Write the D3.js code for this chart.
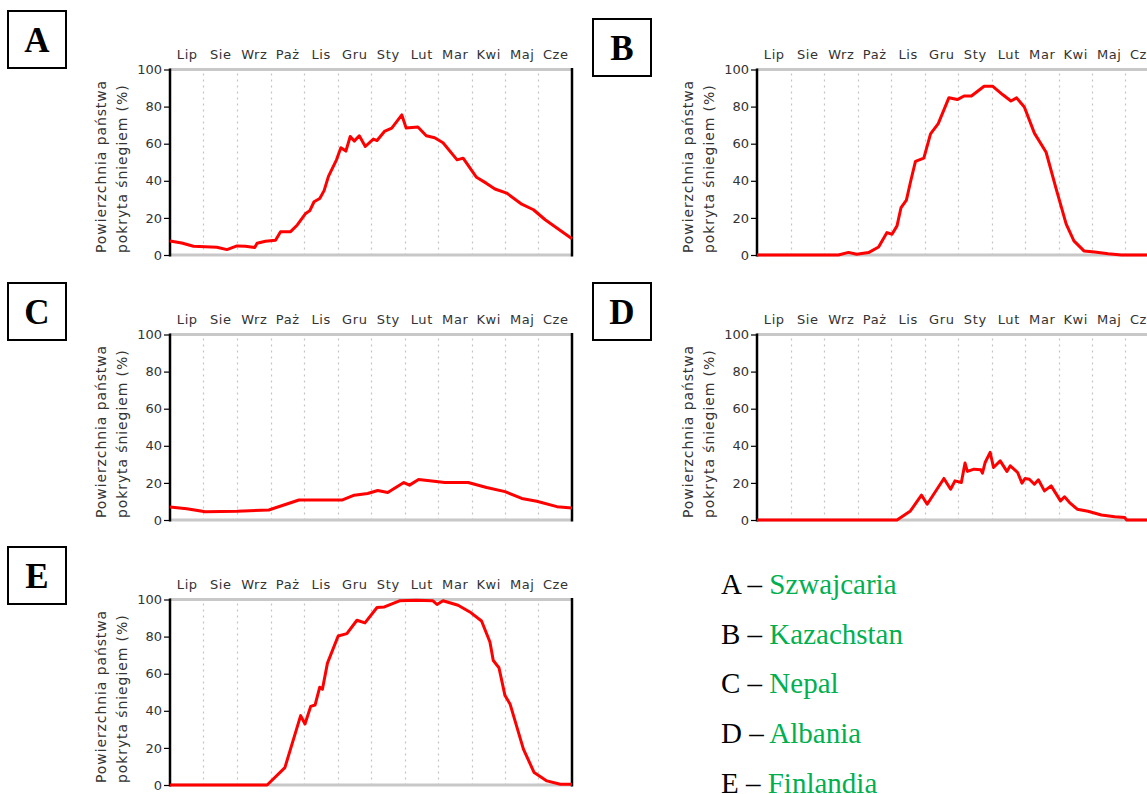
<!DOCTYPE html>
<html>
<head>
<meta charset="utf-8">
<script src="https://cdn.jsdelivr.net/npm/d3@7"></script>
<style>
  body { margin: 0; background: #fff; }
  svg { display: block; }
  .axis text { font-family: "DejaVu Sans", sans-serif; font-size: 13px; fill: #333; }
  .ylabel { font-family: "DejaVu Sans", sans-serif; font-size: 14px; fill: #333; letter-spacing: 0.9px; }
  .legend { font-family: "Liberation Serif", "Times New Roman", serif; font-size: 29px; }
</style>
</head>
<body>
<svg id="chart" width="1147" height="794"></svg>
<script>
// month labels (July .. June)
var months = ["Lip", "Sie", "Wrz", "Paż", "Lis", "Gru", "Sty", "Lut", "Mar", "Kwi", "Maj", "Cze"];
var yTicks = [0, 20, 40, 60, 80, 100];

// [month position, % of country covered by snow]
var snowA = [[0,7.6],[0.35,6.5],[0.7,4.7],[1.05,4.5],[1.4,4.2],[1.7,2.9],[2.0,4.9],[2.25,4.7],[2.53,4.0],[2.6,6.3],
  [2.85,7.4],[3.15,7.9],[3.3,12.5],[3.6,12.6],[3.8,16.2],[4.05,22.4],[4.17,23.8],[4.3,28.7],[4.47,30.5],[4.6,34.7],
  [4.73,42.4],[4.97,51.3],[5.1,57.8],[5.25,56],[5.38,63.9],[5.5,61.4],[5.65,64.3],[5.83,58.5],[6.07,62.5],[6.18,61.7],
  [6.4,66.6],[6.62,68.4],[6.92,75.5],[7.05,68.4],[7.4,69],[7.65,64.3],[7.9,63.2],[8.15,60.5],[8.57,51.3],[8.75,52.2],
  [9.15,41.9],[9.45,38.6],[9.7,35.6],[10.05,33.4],[10.5,27.4],[10.85,24.4],[11.2,19],[11.6,13.9],[12,8.8]];

var snowB = [[0,0],[2.43,0],[2.73,1.4],[2.98,0.4],[3.33,1.3],[3.63,4.3],[3.88,12.1],[4.03,11.2],[4.18,15.7],[4.3,25.6],
  [4.46,29.6],[4.58,39.2],[4.73,50.5],[4.98,52.2],[5.18,65.3],[5.41,70.8],[5.73,84.8],[5.98,83.8],[6.18,85.7],[6.4,85.7],
  [6.78,91],[7.03,91],[7.33,86.5],[7.58,83],[7.75,84.7],[7.98,79.8],[8.28,65.7],[8.63,55.4],[8.93,35.6],[9.23,16.6],
  [9.46,7.6],[9.76,2.2],[10.08,1.6],[10.48,0.7],[10.88,0],[12,0]];

var snowC = [[0,7],[0.5,6.1],[1.05,4.5],[2.0,4.7],[2.95,5.4],[3.4,8.1],[3.85,10.8],[4.35,10.8],[5.15,10.8],[5.5,13.4],
  [5.9,14.3],[6.2,15.9],[6.5,14.8],[6.98,20.2],[7.15,18.8],[7.42,21.8],[7.75,21.1],[8.2,20.2],[8.9,20.2],[9.45,17.5],
  [10.0,15.3],[10.5,11.6],[10.95,10.1],[11.55,7.2],[12,6.5]];

var snowD = [[0,0],[4.18,0],[4.58,4.9],[4.91,13.4],[5.08,8.5],[5.58,22.4],[5.78,16.6],[5.91,21.1],[6.1,20.2],[6.21,30.7],
  [6.28,26.2],[6.48,27.4],[6.68,27.1],[6.73,25.3],[6.81,31],[6.96,36.5],[7.06,28.3],[7.26,31.9],[7.46,26.2],[7.56,29.2],
  [7.78,25.6],[7.91,19.9],[8.0,22.4],[8.13,22],[8.28,19.3],[8.4,21.7],[8.58,15.7],[8.78,18.4],[9.06,10.3],[9.18,12.5],
  [9.33,9.4],[9.56,5.8],[9.88,4.7],[10.28,2.7],[10.68,1.8],[10.98,1.3],[11.03,0],[12,0]];

var snowE = [[0,0],[2.9,0],[3.43,9.4],[3.9,37.4],[4.03,32.9],[4.2,42.4],[4.33,43.1],[4.47,52.7],[4.55,51.6],[4.7,65.7],
  [5.02,80.3],[5.28,81.6],[5.58,88.8],[5.82,87.4],[6.18,95.7],[6.4,96],[6.85,99.3],[7.35,99.6],[7.85,99.3],[7.97,97.3],
  [8.15,99.3],[8.6,96.9],[8.95,93.3],[9.3,88.4],[9.55,77.1],[9.65,67.1],[9.82,63.2],[10.0,48.2],[10.15,43.7],[10.55,19.3],
  [10.87,6.7],[11.25,2.2],[11.65,0.4],[12,0.4]];

var panelLetters = ["A", "B", "C", "D", "E"];
var countries = ["Szwajcaria", "Kazachstan", "Nepal", "Albania", "Finlandia"];
var yLabelLines = ["Powierzchnia państwa", "pokryta śniegiem (%)"];

var plotW = 402, plotH = 185.5;
var panels = [
  {letter: "A", data: snowA, left: 170, top: 69.5, box: [8, 11]},
  {letter: "B", data: snowB, left: 757, top: 69.5, box: [593, 19]},
  {letter: "C", data: snowC, left: 170, top: 334.5, box: [8, 283]},
  {letter: "D", data: snowD, left: 757, top: 334.5, box: [593, 283]},
  {letter: "E", data: snowE, left: 170, top: 599.5, box: [8, 547]}
];

var svg = d3.select("#chart");

panels.forEach(function (p) {
  var x = d3.scaleLinear().domain([0, 12]).range([p.left, p.left + plotW]);
  var y = d3.scaleLinear().domain([0, 100]).range([p.top + plotH, p.top]);
  var g = svg.append("g");

  // dotted month separators
  g.selectAll("line.sep").data(d3.range(1, 12)).enter().append("line")
    .attr("class", "sep")
    .attr("x1", function (d) { return Math.round(x(d)) + 0.5; })
    .attr("x2", function (d) { return Math.round(x(d)) + 0.5; })
    .attr("y1", y(100) + 4).attr("y2", y(0))
    .attr("stroke", "#c4c4c4").attr("stroke-width", 1.2)
    .attr("stroke-dasharray", "2,4");

  // top and bottom grey frame lines
  g.append("line").attr("x1", x(0)).attr("x2", x(12)).attr("y1", y(100)).attr("y2", y(100))
    .attr("stroke", "#c8c8c8").attr("stroke-width", 3);
  g.append("line").attr("x1", x(0)).attr("x2", x(12)).attr("y1", y(0)).attr("y2", y(0))
    .attr("stroke", "#c8c8c8").attr("stroke-width", 3);
  // right black border
  g.append("line").attr("x1", x(12)).attr("x2", x(12)).attr("y1", y(100) - 1.5).attr("y2", y(0) + 1.5)
    .attr("stroke", "#000").attr("stroke-width", 2.5);

  // month labels
  var monthAxis = d3.axisTop(x)
    .tickValues(d3.range(12).map(function (i) { return i + 0.5; }))
    .tickFormat(function (d, i) { return months[i]; })
    .tickSize(0).tickPadding(11);
  var mAx = g.append("g").attr("class", "axis")
    .attr("transform", "translate(0," + y(100) + ")")
    .call(monthAxis);
  mAx.select(".domain").remove();
  mAx.selectAll("text").attr("fill", "#222").style("letter-spacing", "0.6px");

  // left axis
  var leftAxis = d3.axisLeft(y).tickValues(yTicks).tickSize(6).tickPadding(2);
  var yAx = g.append("g").attr("class", "axis")
    .attr("transform", "translate(" + x(0) + ",0)")
    .call(leftAxis);
  yAx.select(".domain").attr("stroke", "#000").attr("stroke-width", 2.5)
    .attr("d", "M0," + (y(100) - 1) + "V" + (y(0) + 1.5));
  yAx.selectAll(".tick line").attr("stroke", "#000").attr("stroke-width", 1.2);

  // y label, two lines
  yLabelLines.forEach(function (t, i) {
    g.append("text").attr("class", "ylabel")
      .attr("transform", "translate(" + (p.left - 64 + i * 21) + "," + (y(0) - 2) + ") rotate(-90)")
      .attr("text-anchor", "start")
      .text(t);
  });

  // snow cover line
  var line = d3.line()
    .x(function (d) { return x(d[0]); })
    .y(function (d) { return y(d[1]); });
  g.append("path").datum(p.data)
    .attr("d", line)
    .attr("fill", "none")
    .attr("stroke", "#ff0000")
    .attr("stroke-width", 3)
    .attr("stroke-linejoin", "round");

  // letter box
  g.append("rect").attr("x", p.box[0]).attr("y", p.box[1])
    .attr("width", 58).attr("height", 57)
    .attr("fill", "#fff").attr("stroke", "#000").attr("stroke-width", 2);
  g.append("text").attr("x", p.box[0] + 29).attr("y", p.box[1] + 41)
    .attr("text-anchor", "middle")
    .style("font-family", "'Liberation Serif', 'Times New Roman', serif")
    .style("font-weight", "bold").style("font-size", "35px")
    .text(p.letter);
});

// answer key
var key = svg.append("g").attr("class", "legend");
panelLetters.forEach(function (l, i) {
  var t = key.append("text").attr("x", 721).attr("y", 594 + i * 49.7);
  t.append("tspan").attr("fill", "#000").text(l + " – ");
  t.append("tspan").attr("fill", "#00b050").text(countries[i]);
});
</script>
</body>
</html>
